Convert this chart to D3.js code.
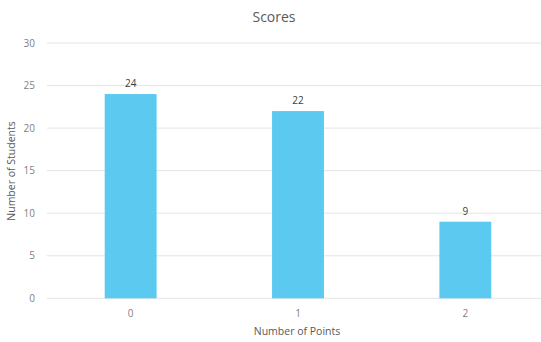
<!DOCTYPE html>
<html>
<head>
<meta charset="utf-8">
<script src="https://cdn.jsdelivr.net/npm/d3@7"></script>
<style>
  body { margin: 0; background: #fff; }
  text { font-family: "Open Sans", "Lato", sans-serif; }
</style>
</head>
<body>
<script>
(function(){

  //chart data
  var categories = ["0", "1", "2"]; //number of points
  var counts = [24, 22, 9]; //number of students
  var yTicks = [0, 5, 10, 15, 20, 25, 30];

  var width = 541, height = 342;
  var left = 47, right = 549, top = 43, bottom = 298.3;

  var svg = d3.select("body").append("svg")
    .attr("width", width)
    .attr("height", height);

  var x = d3.scaleBand()
    .domain(categories)
    .range([left, right])
    .paddingInner(0.69)
    .paddingOuter(0.345);

  var y = d3.scaleLinear()
    .domain([0, 30])
    .range([bottom, top]);

  //gridlines
  svg.append("g").selectAll("line")
    .data(yTicks)
    .enter().append("line")
    .attr("x1", left)
    .attr("x2", right)
    .attr("y1", function(d){ return y(d); })
    .attr("y2", function(d){ return y(d); })
    .attr("stroke", "#e4e4e4")
    .attr("stroke-width", 1);

  //y tick labels
  svg.append("g").selectAll("text")
    .data(yTicks)
    .enter().append("text")
    .attr("x", 35)
    .attr("y", function(d){ return y(d) + 3.5; })
    .attr("text-anchor", "end")
    .attr("font-size", 10)
    .attr("fill", "#7f7f7f")
    .text(function(d){ return d; });

  //bars
  svg.append("g").selectAll("rect")
    .data(counts)
    .enter().append("rect")
    .attr("x", function(d, i){ return x(categories[i]); })
    .attr("y", function(d){ return y(d); })
    .attr("width", x.bandwidth())
    .attr("height", function(d){ return y(0) - y(d); })
    .attr("fill", "#5bc9f0");

  //value labels
  svg.append("g").selectAll("text")
    .data(counts)
    .enter().append("text")
    .attr("x", function(d, i){ return x(categories[i]) + x.bandwidth() / 2; })
    .attr("y", function(d){ return y(d) - 7; })
    .attr("text-anchor", "middle")
    .attr("font-size", 10)
    .attr("fill", "#404040")
    .text(function(d){ return d; });

  //x tick labels
  svg.append("g").selectAll("text")
    .data(categories)
    .enter().append("text")
    .attr("x", function(d){ return x(d) + x.bandwidth() / 2; })
    .attr("y", 317)
    .attr("text-anchor", "middle")
    .attr("font-size", 10)
    .attr("fill", "#7f7f7f")
    .text(function(d){ return d; });

  //title
  svg.append("text")
    .attr("x", 274)
    .attr("y", 22)
    .attr("text-anchor", "middle")
    .attr("font-size", 14)
    .attr("fill", "#595959")
    .text("Scores");

  //axis titles
  svg.append("text")
    .attr("x", 297)
    .attr("y", 335)
    .attr("text-anchor", "middle")
    .attr("font-size", 10.5)
    .attr("fill", "#595959")
    .text("Number of Points");

  svg.append("text")
    .attr("transform", "translate(15,171) rotate(-90)")
    .attr("text-anchor", "middle")
    .attr("font-size", 10.5)
    .attr("fill", "#595959")
    .text("Number of Students");

})();
</script>
</body>
</html>
